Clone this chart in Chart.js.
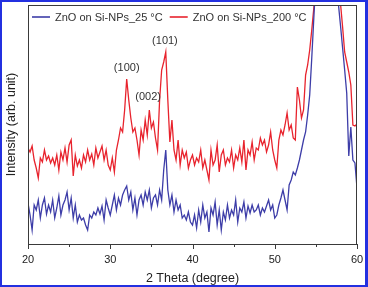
<!DOCTYPE html>
<html>
<head>
<meta charset="utf-8">
<title>XRD ZnO on Si-NPs</title>
<script src="https://cdn.jsdelivr.net/npm/chart.js@4.4.0/dist/chart.umd.min.js"></script>
<style>
    html, body { margin: 0; padding: 0; background: #fff; }
    #wrap { width: 368px; height: 287px; }
</style>
</head>
<body>
<div id="wrap"><canvas id="xrdChart" width="368" height="287"></canvas></div>
<script>
// 2 Theta (degree)
const angles = [
    20.00, 20.25, 20.50, 20.75, 21.00, 21.25, 21.50, 21.75, 22.00, 22.25, 22.50, 22.75,
    23.00, 23.25, 23.50, 23.75, 24.00, 24.25, 24.50, 24.75, 25.00, 25.25, 25.50, 25.75,
    26.00, 26.25, 26.50, 26.75, 27.00, 27.25, 27.50, 27.75, 28.00, 28.25, 28.50, 28.75,
    29.00, 29.25, 29.50, 29.75, 30.00, 30.25, 30.50, 30.75, 31.00, 31.25, 31.50, 31.75,
    32.00, 32.25, 32.50, 32.75, 33.00, 33.25, 33.50, 33.75, 34.00, 34.25, 34.50, 34.75,
    35.00, 35.25, 35.50, 35.75, 36.00, 36.25, 36.50, 36.75, 37.00, 37.25, 37.50, 37.75,
    38.00, 38.25, 38.50, 38.75, 39.00, 39.25, 39.50, 39.75, 40.00, 40.25, 40.50, 40.75,
    41.00, 41.25, 41.50, 41.75, 42.00, 42.25, 42.50, 42.75, 43.00, 43.25, 43.50, 43.75,
    44.00, 44.25, 44.50, 44.75, 45.00, 45.25, 45.50, 45.75, 46.00, 46.25, 46.50, 46.75,
    47.00, 47.25, 47.50, 47.75, 48.00, 48.25, 48.50, 48.75, 49.00, 49.25, 49.50, 49.75,
    50.00, 50.25, 50.50, 50.75, 51.00, 51.25, 51.50, 51.75, 52.00, 52.25, 52.50, 52.75,
    53.00, 53.25, 53.50, 53.75, 54.00, 54.25, 54.50, 54.75, 55.00, 55.25, 55.50, 55.75,
    56.00, 56.25, 56.50, 56.75, 57.00, 57.25, 57.50, 57.75, 58.00, 58.25, 58.50, 58.75,
    59.00, 59.25, 59.50, 59.75, 60.00
];

// ZnO on Si-NPs_25 °C (arb. unit)
const zno25 = [
    41, 29, 14, 39, 34, 44, 26, 39, 46, 30, 39, 32,
    44, 26, 36, 48, 29, 39, 44, 52, 34, 46, 26, 39,
    22, 29, 24, 26, 19, 14, 29, 26, 32, 29, 36, 30,
    38, 24, 44, 36, 29, 39, 49, 34, 46, 39, 49, 54,
    58, 44, 52, 34, 46, 29, 44, 49, 39, 52, 44, 54,
    36, 46, 49, 39, 54, 44, 74, 94, 54, 39, 49, 32,
    44, 34, 39, 26, 29, 24, 32, 22, 19, 29, 16, 34,
    22, 39, 26, 32, 12, 36, 29, 42, 19, 34, 14, 32,
    24, 39, 26, 34, 29, 44, 22, 36, 32, 42, 26, 38,
    31, 39, 32, 34, 39, 29, 36, 32, 38, 44, 34, 39,
    26, 29, 39, 46, 54, 44, 34, 59, 64, 72, 69, 76,
    84, 94, 104, 112, 129, 149, 186, 226, 264, 320, 344, 344,
    344, 344, 344, 344, 344, 344, 300, 239, 218, 196, 174, 151,
    88, 117, 84, 81, 56
];

// ZnO on Si-NPs_200 °C (arb. unit)
const zno200 = [
    96, 92, 98, 84, 76, 66, 86, 82, 94, 84, 88, 81,
    86, 79, 89, 74, 92, 84, 96, 82, 99, 104, 68, 89,
    78, 84, 76, 89, 82, 94, 84, 90, 79, 96, 86, 92,
    98, 84, 94, 79, 74, 86, 72, 94, 104, 116, 112, 134,
    165, 144, 126, 112, 116, 104, 89, 114, 104, 124, 109, 134,
    116, 122, 106, 94, 144, 174, 182, 192, 144, 102, 124, 94,
    84, 104, 79, 94, 86, 92, 76, 84, 89, 79, 86, 82,
    94, 76, 84, 74, 64, 94, 79, 84, 99, 72, 89, 94,
    79, 86, 82, 94, 76, 89, 84, 96, 82, 104, 74, 94,
    89, 102, 84, 96, 94, 106, 99, 104, 92, 99, 112, 94,
    84, 76, 104, 114, 109, 119, 131, 114, 119, 106, 104, 157,
    144, 126, 134, 169, 179, 194, 214, 236, 264, 320, 344, 344,
    344, 344, 344, 344, 344, 344, 320, 290, 240, 217, 192, 182,
    172, 159, 119, 118, 120
];

const xTicks = [20, 30, 40, 50, 60];
const xMinorTicks = [25, 35, 45, 55];
const seriesNames = ['ZnO on Si-NPs_25 °C', 'ZnO on Si-NPs_200 °C'];
const seriesColors = ['#3d3da8', '#e8232d'];

// Miller indices of the ZnO reflections
const peakLabels = ['(100)', '(002)', '(101)'];
const peakAngles = [32.0, 34.6, 36.65];
const peakHeights = [176, 147, 203];

const FONT = "'Liberation Sans', Arial, sans-serif";

// cadre, graduations, légende et indices
const decorPlugin = {
    id: 'decor',
    afterDraw(chart) {
        const ctx = chart.ctx;
        const area = chart.chartArea;
        const xs = chart.scales.x;
        const ys = chart.scales.y;
        ctx.save();

        // cadre du graphe
        ctx.strokeStyle = '#3a3a3a';
        ctx.lineWidth = 1;
        ctx.strokeRect(area.left + 0.5, area.top + 0.5, area.right - area.left - 1, area.bottom - area.top);

        // graduations de l'axe x
        xTicks.forEach(function(v) {
            const px = Math.round(xs.getPixelForValue(v)) + 0.5;
            ctx.beginPath();
            ctx.moveTo(px, area.bottom);
            ctx.lineTo(px, area.bottom + 5);
            ctx.stroke();
        });
        xMinorTicks.forEach(function(v) {
            const px = Math.round(xs.getPixelForValue(v)) + 0.5;
            ctx.beginPath();
            ctx.moveTo(px, area.bottom);
            ctx.lineTo(px, area.bottom + 3);
            ctx.stroke();
        });

        // légende
        ctx.font = '11px ' + FONT;
        ctx.textBaseline = 'middle';
        ctx.textAlign = 'left';
        let lx = area.left + 4;
        const ly = area.top + 12;
        seriesNames.forEach(function(name, i) {
            ctx.strokeStyle = seriesColors[i];
            ctx.lineWidth = 1.6;
            ctx.beginPath();
            ctx.moveTo(lx, ly);
            ctx.lineTo(lx + 18, ly);
            ctx.stroke();
            ctx.fillStyle = '#333';
            ctx.fillText(name, lx + 23, ly + 0.5);
            lx += 23 + ctx.measureText(name).width + 7;
        });

        // indices des pics
        ctx.textAlign = 'center';
        ctx.fillStyle = '#333';
        peakLabels.forEach(function(lbl, i) {
            ctx.fillText(lbl, xs.getPixelForValue(peakAngles[i]), ys.getPixelForValue(peakHeights[i]));
        });

        // bordure bleue de l'image
        ctx.strokeStyle = '#2330e0';
        ctx.lineWidth = 3;
        ctx.strokeRect(0.5, 0.5, chart.width - 2, chart.height - 1);
        ctx.restore();
    }
};

const ctx = document.getElementById('xrdChart').getContext('2d');
const xrdChart = new Chart(ctx, {
    type: 'line',
    data: {
        labels: angles,
        datasets: [
            {
                label: seriesNames[0],
                data: angles.map((a, i) => ({ x: a, y: zno25[i] })),
                borderColor: seriesColors[0],
                borderWidth: 1.3,
                pointRadius: 0,
                tension: 0
            },
            {
                label: seriesNames[1],
                data: angles.map((a, i) => ({ x: a, y: zno200[i] })),
                borderColor: seriesColors[1],
                borderWidth: 1.3,
                pointRadius: 0,
                tension: 0
            }
        ]
    },
    options: {
        responsive: false,
        animation: false,
        devicePixelRatio: 1,
        layout: { padding: { top: 5, right: 11, left: 0, bottom: 0 } },
        plugins: {
            legend: { display: false },
            tooltip: { enabled: false }
        },
        scales: {
            x: {
                type: 'linear',
                min: 20,
                max: 60,
                afterFit: function(scale) { scale.height = 43; },
                afterBuildTicks: function(scale) {
                    scale.ticks = xTicks.map(v => ({ value: v }));
                },
                ticks: {
                    autoSkip: false,
                    maxRotation: 0,
                    padding: 4,
                    color: '#222',
                    font: { family: FONT, size: 11 }
                },
                grid: {
                    display: true,
                    drawOnChartArea: false,
                    drawTicks: true,
                    tickLength: 5,
                    color: 'rgba(0,0,0,0)',
                    tickColor: 'rgba(0,0,0,0)'
                },
                border: { display: false },
                title: {
                    display: true,
                    text: '2 Theta (degree)',
                    color: '#222',
                    font: { family: FONT, size: 12.5 },
                    padding: { top: 1, bottom: 1 }
                }
            },
            y: {
                min: 0,
                max: 239,
                afterFit: function(scale) { scale.width = 28; },
                ticks: { display: false },
                grid: { display: false },
                border: { display: false },
                title: {
                    display: true,
                    text: 'Intensity (arb. unit)',
                    color: '#222',
                    font: { family: FONT, size: 12.5 },
                    padding: { top: 4, bottom: 0 }
                }
            }
        }
    },
    plugins: [decorPlugin]
});
</script>
</body>
</html>
